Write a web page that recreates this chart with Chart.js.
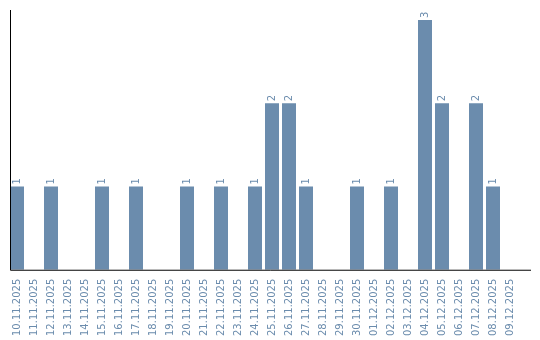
<!DOCTYPE html>
<html>
<head>
<meta charset="utf-8">
<script src="https://cdn.jsdelivr.net/npm/chart.js@4/dist/chart.umd.min.js"></script>
<style>
  html, body { margin: 0; padding: 0; background: #fff; }
  canvas { display: block; }
</style>
</head>
<body>
<canvas id="bar_chart" width="540" height="340"></canvas>
<script>
const dates = ['10.11.2025', '11.11.2025', '12.11.2025', '13.11.2025', '14.11.2025', '15.11.2025',
  '16.11.2025', '17.11.2025', '18.11.2025', '19.11.2025', '20.11.2025', '21.11.2025',
  '22.11.2025', '23.11.2025', '24.11.2025', '25.11.2025', '26.11.2025', '27.11.2025',
  '28.11.2025', '29.11.2025', '30.11.2025', '01.12.2025', '02.12.2025', '03.12.2025',
  '04.12.2025', '05.12.2025', '06.12.2025', '07.12.2025', '08.12.2025', '09.12.2025'];
const counts = [1, 0, 1, 0, 0, 1, 0, 1, 0, 0, 1, 0, 1, 0, 1, 2, 2, 1, 0, 0, 1, 0, 1, 0, 3, 2, 0, 2, 1, 0];

const barColor = '#6b8cad';
const textColor = '#6b8cad';

// axis lines, the left one and the bottom one run a bit past the bars
const axisLines = {
  id: 'axisLines',
  afterDraw(chart) {
    const c = chart.ctx;
    const area = chart.chartArea;
    c.save();
    c.strokeStyle = '#000';
    c.lineWidth = 1;
    c.beginPath();
    c.moveTo(10.5, area.top);
    c.lineTo(10.5, area.bottom + 0.5);
    c.lineTo(531, area.bottom + 0.5);
    c.stroke();
    c.restore();
  }
};

// value labels above each bar, turned like the dates
const valueLabels = {
  id: 'valueLabels',
  afterDatasetsDraw(chart) {
    const c = chart.ctx;
    const meta = chart.getDatasetMeta(0);
    c.save();
    c.font = '10px "DejaVu Sans"';
    c.fillStyle = textColor;
    c.textAlign = 'left';
    c.textBaseline = 'middle';
    meta.data.forEach((bar, i) => {
      if (!counts[i]) return;
      c.save();
      c.translate(bar.x, bar.y - 2);
      c.rotate(-Math.PI / 2);
      c.fillText(String(counts[i]), 0, 0);
      c.restore();
    });
    c.restore();
  }
};

const ctx = document.getElementById('bar_chart').getContext('2d');
const chart = new Chart(ctx, {
  type: 'bar',
  data: {
    labels: dates,
    datasets: [{
      data: counts,
      backgroundColor: barColor,
      borderWidth: 0,
      barPercentage: 14 / 17,
      categoryPercentage: 1
    }]
  },
  options: {
    responsive: false,
    animation: false,
    layout: { padding: { left: 8.5, right: 21.5, top: 10, bottom: 3 } },
    plugins: {
      legend: { display: false },
      tooltip: { enabled: false }
    },
    scales: {
      x: {
        grid: { display: false },
        border: { display: false },
        ticks: {
          color: textColor,
          font: { family: 'DejaVu Sans', size: 10 },
          minRotation: 90,
          maxRotation: 90,
          autoSkip: false,
          padding: 1
        }
      },
      y: {
        display: false,
        min: 0,
        max: 3.12
      }
    }
  },
  plugins: [axisLines, valueLabels]
});
</script>
</body>
</html>
